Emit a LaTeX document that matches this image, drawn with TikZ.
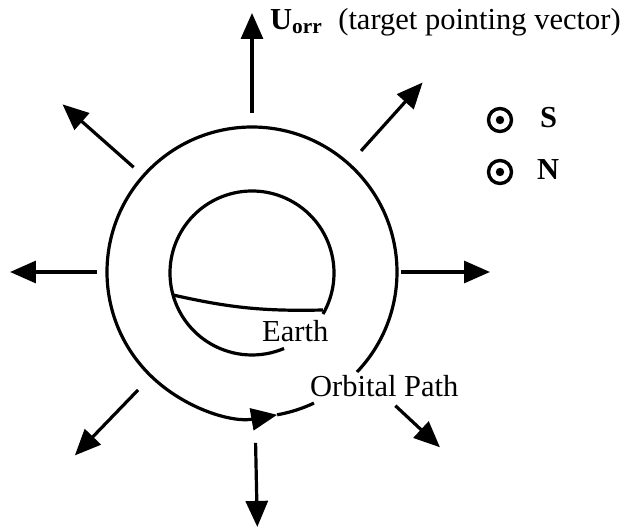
\documentclass[tikz,border=0pt]{standalone}
\usepackage{fontspec}
\setmainfont{Liberation Serif}
\usetikzlibrary{arrows.meta}
\tikzset{
  orbitline/.style={line width=3.2pt},
  ray/.style={line width=3.2pt, -{Triangle[length=26pt, width=22pt]}},
  txt/.style={inner sep=0pt, anchor=base west},
  dotsym/.style={circle, draw, line width=3.4pt, minimum size=23pt, inner sep=0pt,
    path picture={\fill (path picture bounding box.center) circle[radius=4.2pt];}}
}

\begin{document}
\begin{tikzpicture}[x=1pt, y=1pt, font=\fontsize{30.5}{36}\selectfont]
  \useasboundingbox (-252,-257) rectangle (378,272);
  % orbit, open where its label sits
  \draw[orbitline, -{Triangle[length=26pt, width=22pt]}] (-43.6:145pt)
    arc[start angle=-43.6, end angle=280, radius=145pt];
  \draw[orbitline] (280:145pt) arc[start angle=280, end angle=295.3, radius=145pt];
  % earth
  \draw[orbitline] (0,-1) ++(-30:82pt) arc[start angle=-30, end angle=293, radius=82pt];
  \draw[orbitline] (-79,-23) to[bend right=7] (71,-38);
  % pointing vectors
  \foreach \ang/\from/\to in {90/159/259, 48/163/255, 0/149/238, 138.5/158/253,
                             180/155/242, 226/164/255, 271.2/171/255, -43/196/257}
    \draw[ray] (\ang:\from pt) -- (\ang:\to pt);
  \node[txt] (uvec) at (18,242)
    {\textbf{U}\textsubscript{\textbf{orr}}\hspace{16pt}(target pointing vector)};
  \node[txt] (earthlabel) at (10,-70) {Earth};
  \node[txt] (orbitlabel) at (58,-125) {Orbital Path};
  \node[dotsym] (sdot) at (248,152) {};
  \node[txt] (slabel) at (288,144) {\textbf{S}};
  \node[dotsym] (ndot) at (248,100) {};
  \node[txt] (nlabel) at (285,92) {\textbf{N}};
\end{tikzpicture}
\end{document}
